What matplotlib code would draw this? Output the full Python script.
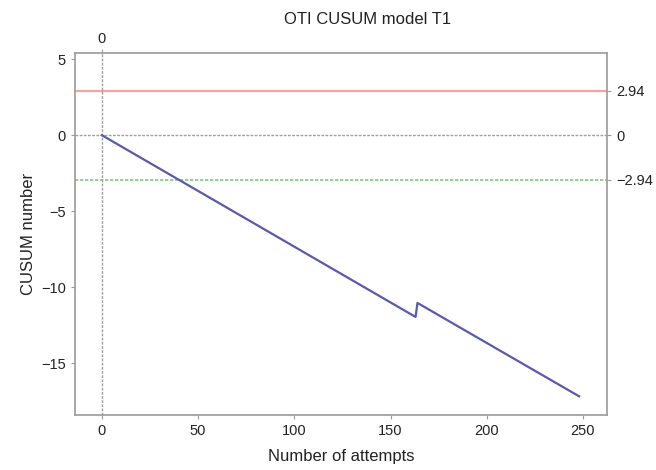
import matplotlib
matplotlib.use("Agg")
import matplotlib.pyplot as plt

# Data (vertices of the CUSUM polyline)
attempts = [0, 163, 164, 248]
cusum = [0.0, -11.95, -11.03, -17.17]
upper_limit = 2.94
lower_limit = -2.94
x_ticks = [0, 50, 100, 150, 200, 250]
y_ticks = [5, 0, -5, -10, -15]
right_ticks = [2.94, 0, -2.94]
right_labels = ["2.94", "0", "\u22122.94"]

plt.rcParams['font.family'] = ['Liberation Sans', 'DejaVu Sans']
fig = plt.figure(figsize=(6.56, 4.70), dpi=100)
ax = fig.add_axes([0.1143, 0.117, 0.811, 0.770])

frame_col = '#9a9a9a'
ax.axhline(upper_limit, color='#f4a3a3', lw=1.6, zorder=2)
ax.axhline(lower_limit, color='#7fc97f', lw=1.2, ls=(0, (2, 1)), zorder=2)
ax.axhline(0, color='#a0a0a0', lw=1.0, ls=(0, (2, 1)), zorder=2)
ax.axvline(0, color='#a0a0a0', lw=1.0, ls=(0, (2, 1)), zorder=2)
ax.plot(attempts, cusum, color='#5a5aaa', lw=1.6, zorder=3)

ax.set_xlim(-14, 262.5)
ax.set_ylim(-18.4, 5.4)
ax.set_xticks(x_ticks)
ax.set_yticks(y_ticks)
ax.set_yticklabels([str(v).replace('-', '\u2212') for v in y_ticks])
for s in ax.spines.values():
    s.set_color(frame_col)
    s.set_linewidth(1.2)
ax.tick_params(colors=frame_col, labelcolor='#222222', labelsize=10.5, length=3)

axr = ax.twinx()
axr.set_ylim(ax.get_ylim())
axr.set_yticks(right_ticks)
axr.set_yticklabels(right_labels)
axr.tick_params(colors=frame_col, labelcolor='#222222', labelsize=10.5, length=3)
for s in axr.spines.values():
    s.set_visible(False)

axt = ax.twiny()
axt.set_xlim(ax.get_xlim())
axt.set_xticks([0])
axt.set_xticklabels(["0"])
axt.tick_params(colors=frame_col, labelcolor='#222222', labelsize=10.5, length=3, pad=2)
for s in axt.spines.values():
    s.set_visible(False)

ax.set_xlabel("Number of attempts", fontsize=12, color='#222222', labelpad=8)
ax.set_ylabel("CUSUM number", fontsize=12, color='#222222', labelpad=4)
fig.text(0.56, 0.958, "OTI CUSUM model T1", ha='center', va='center', fontsize=12, color='#222222')

fig.savefig("out.png", dpi=100)
